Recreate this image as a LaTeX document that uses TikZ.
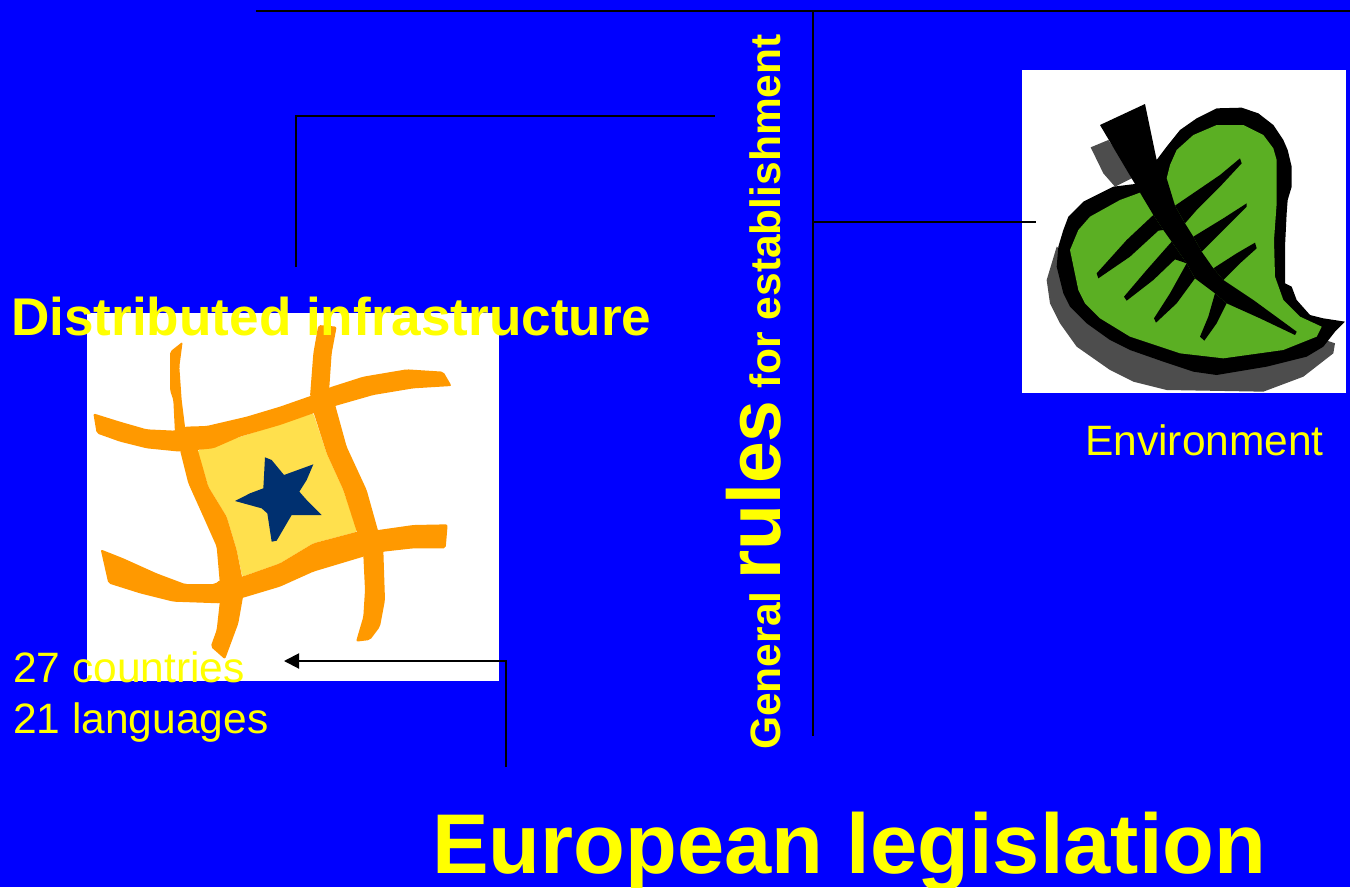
\documentclass[tikz,border=0pt]{standalone}
\usepackage{fontspec}
\usetikzlibrary{arrows.meta}
\setmainfont{Liberation Sans}
\definecolor{slideblue}{HTML}{0000FF}
\definecolor{slideyellow}{HTML}{FFFF00}
\definecolor{netorange}{HTML}{FF9900}
\definecolor{netyellow}{HTML}{FFE04D}
\definecolor{netstar}{HTML}{003070}
\definecolor{leafgreen}{HTML}{5BAF23}
\definecolor{leafshadow}{HTML}{4D4D4D}
\tikzset{
  label/.style={text=slideyellow,inner sep=0pt,anchor=base west},
  wire/.style={draw=black,line width=2pt},
  picbox/.style={fill=white,draw=none},
}
\begin{document}
\begin{tikzpicture}[x=1pt,y=-1pt]
\useasboundingbox (0,0) rectangle (1350,887);
\fill[slideblue] (0,0) rectangle (1350,887);

% grid picture
\fill[picbox] (87,313) rectangle (499,681);
\begin{scope}[shift={(80,300)},scale=0.33333,rounded corners=2pt]
\fill[netyellow] (352,452) -- (700,340) -- (740,460) -- (790,570) -- (832,695) -- (700,730) -- (600,790) -- (487,830) -- (470,750) -- (440,650) -- (385,560) -- cycle;
\fill[netorange] (40,340) -- (120,365) -- (200,388) -- (285,392) -- (315,380) -- (380,378) -- (500,350) -- (600,320) -- (700,285) -- (750,262) -- (850,230) -- (980,208) -- (1090,215) -- (1115,258) -- (1000,265) -- (880,285) -- (765,318) -- (700,340) -- (600,375) -- (480,410) -- (400,445) -- (300,455) -- (200,445) -- (120,425) -- (50,400) -- cycle;
\fill[netorange] (270,155) -- (308,125) -- (298,200) -- (305,300) -- (315,380) -- (315,400) -- (285,400) -- (280,300) -- (270,270) -- cycle;
\fill[netorange] (715,75) -- (770,80) -- (755,160) -- (748,262) -- (748,280) -- (690,290) -- (700,160) -- cycle;
\fill[netorange] (300,450) -- (352,445) -- (385,560) -- (440,650) -- (470,750) -- (487,835) -- (420,855) -- (410,740) -- (370,650) -- (325,550) -- cycle;
\fill[netorange] (700,335) -- (765,313) -- (800,440) -- (860,570) -- (895,695) -- (832,700) -- (790,570) -- (740,460) -- cycle;
\fill[netorange] (62,748) -- (130,775) -- (230,820) -- (315,852) -- (405,852) -- (420,840) -- (487,830) -- (600,790) -- (700,730) -- (832,695) -- (895,690) -- (1000,675) -- (1103,673) -- (1097,745) -- (1000,745) -- (910,755) -- (850,770) -- (700,815) -- (600,860) -- (490,893) -- (420,910) -- (280,905) -- (180,880) -- (85,850) -- cycle;
\fill[netorange] (420,900) -- (490,885) -- (475,970) -- (435,1078) -- (392,1040) -- (410,990) -- cycle;
\fill[netorange] (850,765) -- (910,750) -- (915,900) -- (900,980) -- (870,1020) -- (828,1025) -- (850,950) -- (855,870) -- cycle;
\fill[netstar,sharp corners] (555,472) -- (575,480) -- (612,525) -- (700,493) -- (680,540) -- (658,575) -- (680,600) -- (725,645) -- (635,645) -- (590,722) -- (575,725) -- (562,640) -- (545,625) -- (465,603) -- (510,580) -- (550,565) -- cycle;
\end{scope}

% leaf picture
\fill[picbox] (1022,70) rectangle (1346,393);
\begin{scope}[shift={(1020,60)},scale=0.33333]
\fill[leafshadow] (212,262) -- (265,240) -- (345,350) -- (285,380) -- (250,340) -- cycle;
\fill[leafshadow] (110,560) -- (80,660) -- (90,730) -- (120,790) -- (170,860) -- (270,930) -- (340,965) -- (440,990) -- (730,995) -- (850,950) -- (940,880) -- (945,850) -- (800,800) -- (300,700) -- cycle;
\fill[black] (240,195) -- (375,132) -- (410,300) -- (440,260) -- (480,210) -- (530,175) -- (590,145) -- (665,143) -- (715,160) -- (760,195) -- (790,240) -- (803,270) -- (815,320) -- (815,380) -- (803,420) -- (800,460) -- (795,560) -- (795,670) -- (815,680) -- (830,720) -- (870,765) -- (910,775) -- (975,785) -- (945,815) -- (910,860) -- (860,890) -- (740,920) -- (590,945) -- (520,935) -- (430,905) -- (330,870) -- (270,840) -- (200,790) -- (150,740) -- (130,700) -- (110,620) -- (115,560) -- (130,510) -- (145,470) -- (190,425) -- (280,380) -- (345,372) -- cycle;
\fill[leafgreen] (440,355) -- (450,315) -- (470,270) -- (520,225) -- (590,195) -- (670,195) -- (730,225) -- (760,265) -- (770,300) -- (770,430) -- (762,540) -- (765,650) -- (790,720) -- (840,770) -- (905,800) -- (890,830) -- (790,870) -- (610,895) -- (480,880) -- (330,830) -- (240,775) -- (195,730) -- (175,690) -- (150,570) -- (175,510) -- (210,470) -- (300,420) -- (360,398) -- cycle;
\fill[black] (400,340) -- (440,355) -- (465,437) -- (495,490) -- (520,530) -- (545,575) -- (580,625) -- (610,660) -- (700,720) -- (830,815) -- (825,825) -- (720,775) -- (620,730) -- (585,700) -- (525,655) -- (500,610) -- (455,545) -- (430,510) -- (400,465) -- (360,398) -- cycle;
\fill[black] (465,437) -- (600,345) -- (660,295) -- (665,310) -- (600,380) -- (530,450) -- (495,490) -- cycle;
\fill[black] (520,530) -- (610,475) -- (680,430) -- (680,440) -- (610,510) -- (545,575) -- cycle;
\fill[black] (580,625) -- (650,580) -- (705,548) -- (710,565) -- (660,610) -- (610,660) -- cycle;
\fill[black] (400,465) -- (320,540) -- (230,640) -- (235,655) -- (330,590) -- (415,512) -- (430,510) -- cycle;
\fill[black] (455,545) -- (380,630) -- (312,710) -- (320,722) -- (400,660) -- (465,598) -- (500,610) -- cycle;
\fill[black] (500,610) -- (450,700) -- (402,775) -- (408,788) -- (470,730) -- (525,655) -- cycle;
\fill[black] (585,700) -- (565,770) -- (540,830) -- (553,842) -- (590,790) -- (620,730) -- cycle;
\end{scope}

\coordinate (topL) at (256,11);
\coordinate (topR) at (1350,11);
\coordinate (spine) at (813,11);
\coordinate (spineEnd) at (813,736);
\coordinate (spineMid) at (813,222);
\coordinate (leafEnd) at (1036,222);
\coordinate (infraStart) at (296,267);
\coordinate (infraCorner) at (296,116);
\coordinate (infraEnd) at (715,116);
\coordinate (lawStart) at (506,767);
\coordinate (lawCorner) at (506,661);
\coordinate (lawEnd) at (284,661);

\draw[wire] (topL) -- (topR);
\draw[wire] (spine) -- (spineEnd);
\draw[wire] (spineMid) -- (leafEnd);
\draw[wire] (infraStart) -- (infraCorner) -- (infraEnd);
\draw[wire,-{Stealth[length=15pt,width=15pt,inset=0pt]}] (lawStart) -- (lawCorner) -- (lawEnd);

\node[label,font=\bfseries\fontsize{53.1}{53}\selectfont] (infra) at (11,335) {Distributed infrastructure};
\node[label,font=\fontsize{42.5}{42}\selectfont] (env) at (1085,455) {Environment};
\node[label,font=\fontsize{42.5}{42}\selectfont] (countries) at (13,682) {27 countries};
\node[label,font=\fontsize{42.5}{42}\selectfont] (languages) at (13,733) {21 languages};
\node[label,font=\bfseries\fontsize{84.8}{85}\selectfont] (law) at (432,873) {European legislation};
\node[label,rotate=90,font=\bfseries\fontsize{42.5}{42}\selectfont] (rules) at (780,750) {General {\fontsize{75}{75}\selectfont rules} for establishment};
\end{tikzpicture}
\end{document}
